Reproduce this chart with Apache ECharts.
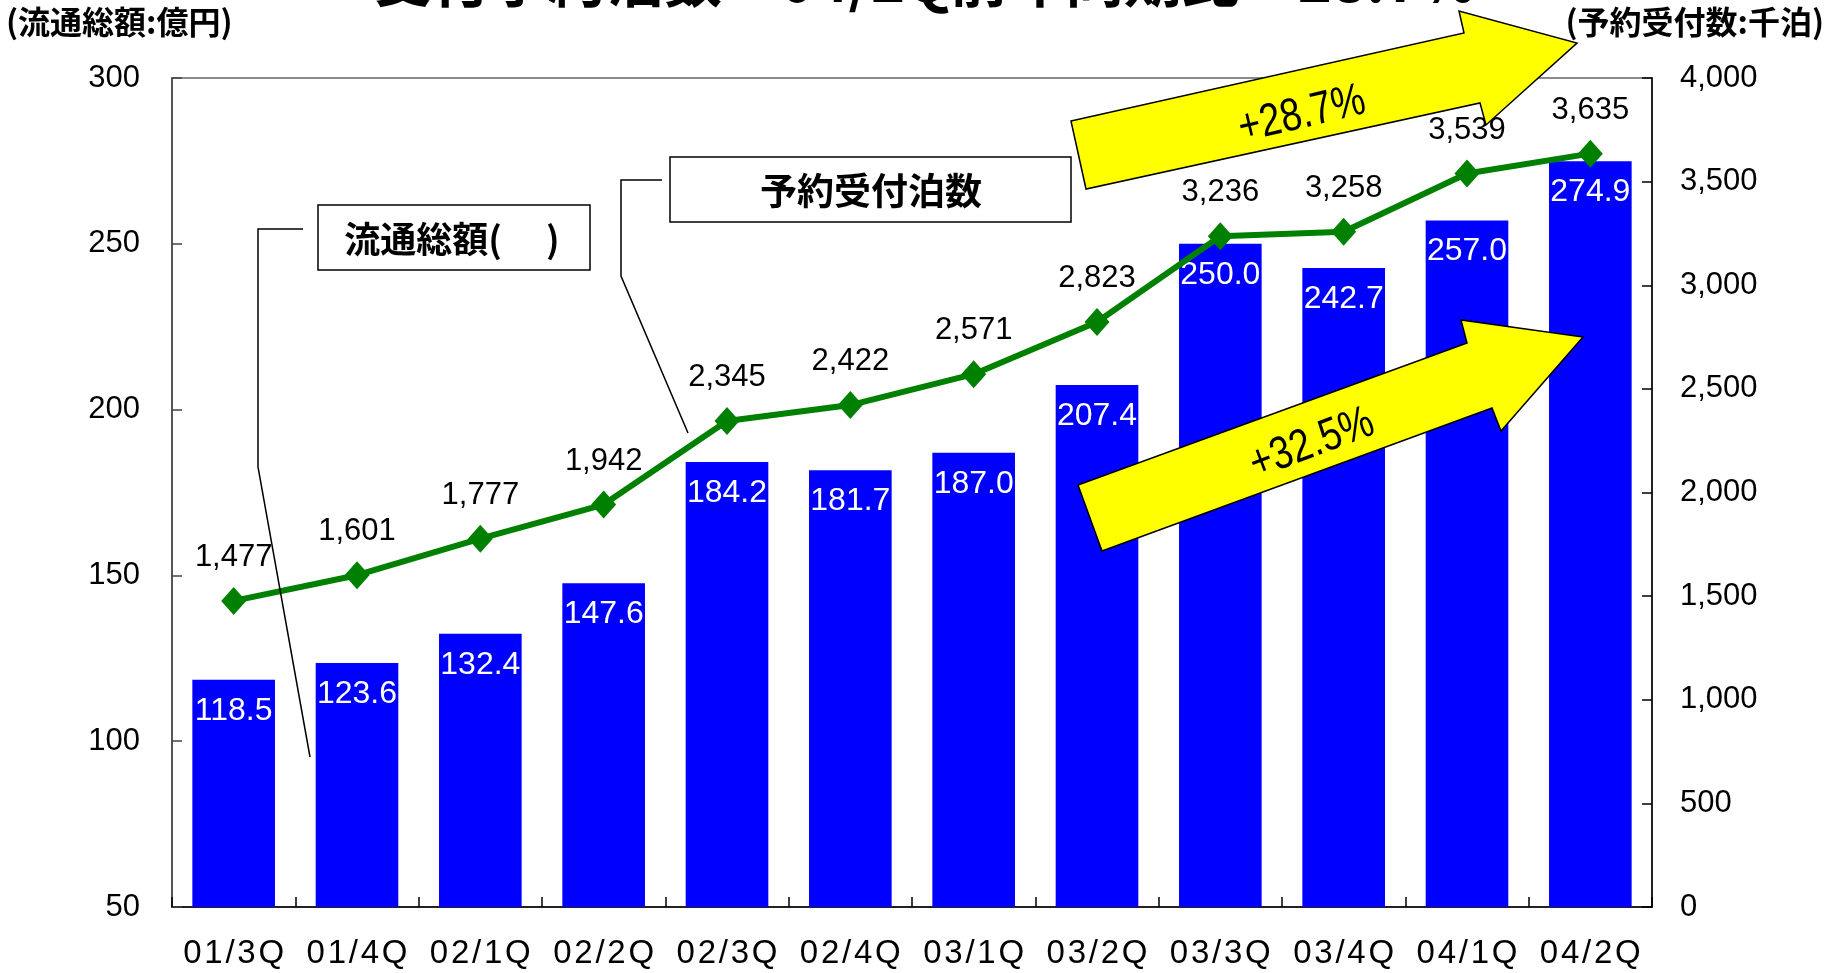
<!DOCTYPE html>
<html>
<head>
<meta charset="utf-8">
<script src="https://cdn.jsdelivr.net/npm/echarts@6/dist/echarts.min.js"></script>
<style>
html,body{margin:0;padding:0;background:#fff;}
#c{width:1833px;height:973px;}
</style>
</head>
<body>
<div id="c"></div>
<script>
var categories = ['01/3Q','01/4Q','02/1Q','02/2Q','02/3Q','02/4Q','03/1Q','03/2Q','03/3Q','03/4Q','04/1Q','04/2Q'];
var grossValues = [118.5,123.6,132.4,147.6,184.2,181.7,187.0,207.4,250.0,242.7,257.0,274.9];
var bookingNights = [1477,1601,1777,1942,2345,2422,2571,2823,3236,3258,3539,3635];
var leftTicks = {min:50, max:300, interval:50};
var rightTicks = {min:0, max:4000, interval:500};

function comma(v){ return String(v).replace(/\B(?=(\d{3})+(?!\d))/g, ','); }

var NUM = "'Liberation Sans', Arial, sans-serif";
var CJK = "'Noto Sans CJK JP', 'Noto Sans', sans-serif";

var chart = echarts.init(document.getElementById('c'));
chart.setOption({
  animation: false,
  backgroundColor: '#fff',
  grid: {left:172, right:181, top:78, bottom:66, show:true, borderColor:'#666', borderWidth:1.5},
  xAxis: {
    type:'category', data: categories,
    axisLine:{show:true, lineStyle:{color:'#000', width:1.5}},
    axisTick:{show:true, inside:true, length:10, lineStyle:{color:'#000', width:1.5}},
    axisLabel:{color:'#000', fontSize:33, fontFamily:NUM, margin:30, interval:0, hideOverlap:false,
      formatter:function(v){return v.split('').join('\u200A');}},
    splitLine:{show:false}
  },
  yAxis: [{
    type:'value', min:leftTicks.min, max:leftTicks.max, interval:leftTicks.interval,
    axisLine:{show:true, lineStyle:{color:'#444', width:1.5}},
    axisTick:{show:true, inside:true, length:10, lineStyle:{color:'#444', width:1.5}},
    axisLabel:{color:'#000', fontSize:31, fontFamily:NUM, margin:32},
    splitLine:{show:false}
  },{
    type:'value', min:rightTicks.min, max:rightTicks.max, interval:rightTicks.interval,
    position:'right',
    axisLine:{show:true, lineStyle:{color:'#000', width:1.5}},
    axisTick:{show:true, inside:true, length:10, lineStyle:{color:'#000', width:1.5}},
    axisLabel:{color:'#000', fontSize:31, fontFamily:NUM, margin:28, formatter:function(v){return comma(v);}},
    splitLine:{show:false}
  }],
  series: [{
    type:'bar', name:'流通総額', data: grossValues, barWidth:'67%',
    itemStyle:{color:'#0000FF'},
    label:{show:true, position:'insideTop', distance:15, color:'#fff', fontSize:32, fontFamily:NUM,
      formatter:function(p){return p.value.toFixed(1);}}
  },{
    type:'line', name:'予約受付泊数', yAxisIndex:1, data: bookingNights,
    lineStyle:{color:'#008000', width:6},
    itemStyle:{color:'#008000'},
    symbol:'diamond', symbolSize:[25,28],
    label:{show:true, position:'top', distance:14, color:'#000', fontSize:31, fontFamily:NUM,
      formatter:function(p){return comma(p.value);}},
    z:5
  }],
  graphic: [
    {type:'text', left:374, top:-49, z:100, style:{text:'受付予約泊数：04/2Q前年同期比：28.7%', fontSize:58, fontWeight:'bold', fontFamily:CJK, fill:'#000'}},
    {type:'text', left:6, top:6, z:100, style:{text:'(流通総額:億円)', fontSize:32, fontWeight:'bold', fontFamily:CJK, fill:'#000'}},
    {type:'text', right:9, top:6, z:100, style:{text:'(予約受付数:千泊)', fontSize:32, fontWeight:'bold', fontFamily:CJK, fill:'#000'}},
    // callout 1
    {type:'polyline', z:90, shape:{points:[[303,229],[258,229],[258,467],[310,757]]}, style:{stroke:'#000', lineWidth:1.5, fill:null}},
    {type:'rect', z:90, shape:{x:318, y:205, width:272, height:65}, style:{fill:'#fff', stroke:'#000', lineWidth:1.5}},
    {type:'text', z:91, x:452, y:239, style:{text:'流通総額(　 )', fontSize:36, fontWeight:'bold', fontFamily:CJK, fill:'#000', align:'center', verticalAlign:'middle'}},
    // callout 2
    {type:'polyline', z:90, shape:{points:[[662,180],[621,180],[621,276],[688,433]]}, style:{stroke:'#000', lineWidth:1.5, fill:null}},
    {type:'rect', z:90, shape:{x:670, y:157, width:401, height:65}, style:{fill:'#fff', stroke:'#000', lineWidth:1.5}},
    {type:'text', z:91, x:871, y:191, style:{text:'予約受付泊数', fontSize:37, fontWeight:'bold', fontFamily:CJK, fill:'#000', align:'center', verticalAlign:'middle'}},
    // arrow 1
    {type:'polygon', z:95, shape:{points:[[1071,121],[1464,33],[1459,11],[1577,43],[1486,125],[1480,103],[1086,189]]}, style:{fill:'#FFFF00', stroke:'#000', lineWidth:1.5}},
    {type:'text', z:96, x:1302, y:115, rotation:0.23, scaleX:0.82, style:{text:'+28.7%', fontSize:46, fontFamily:NUM, fill:'#000', align:'center', verticalAlign:'middle'}},
    // arrow 2
    {type:'polygon', z:95, shape:{points:[[1078,485],[1467,343],[1461,320],[1583,337],[1501,431],[1492,408],[1102,551]]}, style:{fill:'#FFFF00', stroke:'#000', lineWidth:1.5}},
    {type:'text', z:96, x:1312, y:444, rotation:0.36, scaleX:0.82, style:{text:'+32.5%', fontSize:46, fontFamily:NUM, fill:'#000', align:'center', verticalAlign:'middle'}}
  ]
});
</script>
</body>
</html>
